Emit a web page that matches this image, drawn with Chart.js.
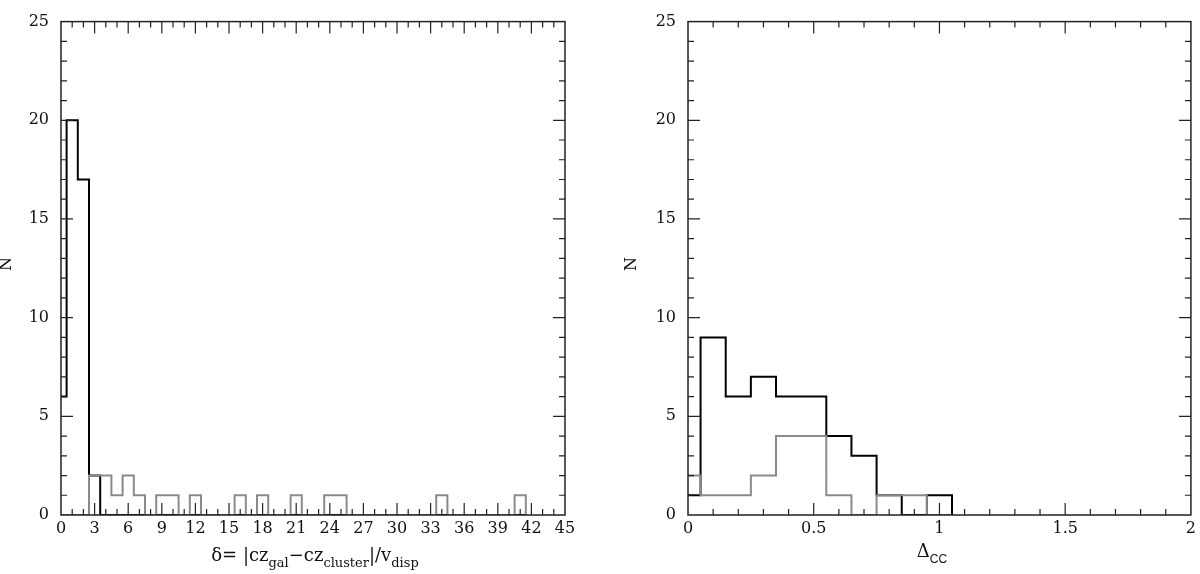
<!DOCTYPE html>
<html>
<head>
<meta charset="utf-8">
<script src="https://cdn.jsdelivr.net/npm/chart.js@4"></script>
<style>
  body { margin: 0; background: #fff; }
  #wrap { position: relative; width: 1200px; height: 574px; }
  canvas { position: absolute; top: 0; }
</style>
</head>
<body>
<div id="wrap">
  <canvas id="leftChart" width="600" height="574" style="left:0"></canvas>
  <canvas id="rightChart" width="600" height="574" style="left:600px"></canvas>
</div>
<script>
// left panel: bins of width 1 centred on integers
const leftBins = [0,1,2,3,4,5,6,7,8,9,10,11,12,13,14,15,16,17,18,19,20,
                  21,22,23,24,25,26,27,28,29,30,31,32,33,34,35,36,37,38,39,40,41];
const leftBlack = [6,20,17,2,0,0,0,0,0,0,0,0,0,0,0,0,0,0,0,0,0,
                   0,0,0,0,0,0,0,0,0,0,0,0,0,0,0,0,0,0,0,0,0];
const leftGray = [0,0,0,2,2,1,2,1,0,1,1,0,1,0,0,0,1,0,1,0,0,
                  1,0,0,1,1,0,0,0,0,0,0,0,0,1,0,0,0,0,0,0,1];

// right panel: bins of width 0.1
const rightBins = [0,0.1,0.2,0.3,0.4,0.5,0.6,0.7,0.8,0.9,1.0];
const rightBlack = [1,9,6,7,6,6,4,3,1,0,1];
const rightGray = [2,1,1,2,4,4,1,0,1,1,0];

const serif = "'DejaVu Serif', serif";

// turn bin centres + counts into step points (left edges, plus closing edge)
function histPoints(centers, counts, width) {
    let pts = centers.map((c, i) => ({ x: c - width / 2, y: counts[i] }));
    pts.push({ x: centers[centers.length - 1] + width / 2, y: 0 });
    return pts;
}

// frame + inward minor/major ticks on all four sides
const frameTicks = {
    id: 'frameTicks',
    afterDraw(chart, args, opts) {
        const { ctx, chartArea: a, scales } = chart;
        ctx.save();
        ctx.strokeStyle = '#222';
        ctx.lineWidth = 1.5;
        ctx.strokeRect(a.left, a.top, a.right - a.left, a.bottom - a.top);
        ctx.lineWidth = 1.2;
        const drawAxis = (scale, minor, major, horiz) => {
            let n = Math.round((scale.max - scale.min) / minor);
            for (let i = 1; i < n; i++) {
                let v = scale.min + i * minor;
                let isMajor = Math.abs(v / major - Math.round(v / major)) < 1e-6;
                let len = isMajor ? 12 : 6;
                let p = scale.getPixelForValue(v);
                ctx.beginPath();
                if (horiz) {
                    ctx.moveTo(p, a.bottom); ctx.lineTo(p, a.bottom - len);
                    ctx.moveTo(p, a.top); ctx.lineTo(p, a.top + len);
                } else {
                    ctx.moveTo(a.left, p); ctx.lineTo(a.left + len, p);
                    ctx.moveTo(a.right, p); ctx.lineTo(a.right - len, p);
                }
                ctx.stroke();
            }
        };
        drawAxis(scales.x, opts.xMinor, opts.xMajor, true);
        drawAxis(scales.y, 1, 5, false);
        ctx.restore();
    }
};

// axis titles with subscripts
const richTitles = {
    id: 'richTitles',
    afterDraw(chart, args, opts) {
        const ctx = chart.ctx;
        ctx.save();
        ctx.fillStyle = '#111';
        ctx.textBaseline = 'alphabetic';
        const parts = opts.xParts;
        let widths = parts.map(p => { ctx.font = p.font; return ctx.measureText(p.text).width; });
        let total = widths.reduce((s, w) => s + w, 0);
        let x = opts.xCenter - total / 2;
        parts.forEach((p, i) => {
            ctx.font = p.font;
            ctx.fillText(p.text, x, opts.xBase + (p.sub ? 6 : 0));
            x += widths[i];
        });
        ctx.font = '16px ' + serif;
        ctx.translate(opts.yX, opts.yY);
        ctx.rotate(-Math.PI / 2);
        ctx.textAlign = 'center';
        ctx.textBaseline = 'middle';
        ctx.fillText('N', 0, 0);
        ctx.restore();
    }
};

function makeChart(id, bins, black, gray, width, xcfg, yWidth, padRight, titles) {
    return new Chart(document.getElementById(id), {
        type: 'line',
        data: {
            datasets: [
                { data: histPoints(bins, gray, width), borderColor: '#8a8a8a', borderWidth: 2,
                  stepped: true, pointRadius: 0, fill: false },
                { data: histPoints(bins, black, width), borderColor: '#000', borderWidth: 2,
                  stepped: true, pointRadius: 0, fill: false }
            ]
        },
        options: {
            responsive: false,
            animation: false,
            layout: { padding: { top: 7, right: padRight, left: 0, bottom: 0 } },
            plugins: {
                legend: { display: false },
                tooltip: { enabled: false },
                frameTicks: { xMinor: xcfg.minor, xMajor: xcfg.step },
                richTitles: titles
            },
            scales: {
                x: {
                    type: 'linear', min: 0, max: xcfg.max,
                    grid: { display: false, drawTicks: false },
                    border: { display: false },
                    ticks: { stepSize: xcfg.step, padding: 4, color: '#111', maxRotation: 0,
                             autoSkip: false, font: { family: serif, size: 16 },
                             callback: v => String(Number(v)) },
                    afterFit: s => { s.height = 59; }
                },
                y: {
                    min: 0, max: 25,
                    grid: { display: false, drawTicks: false },
                    border: { display: false },
                    ticks: { stepSize: 5, padding: 12, color: '#111',
                             font: { family: serif, size: 16 } },
                    afterFit: s => { s.width = yWidth; }
                }
            }
        },
        plugins: [frameTicks, richTitles]
    });
}

const main = '18px ' + serif, sub = '13px ' + serif;

makeChart('leftChart', leftBins, leftBlack, leftGray, 1,
    { max: 45, step: 3, minor: 1 }, 61, 35,
    { xCenter: 315, xBase: 561, yX: 7, yY: 264,
      xParts: [
        { text: '\u03b4= |cz', font: main }, { text: 'gal', font: sub, sub: true },
        { text: '\u2212cz', font: main }, { text: 'cluster', font: sub, sub: true },
        { text: '|/v', font: main }, { text: 'disp', font: sub, sub: true }
      ] });

makeChart('rightChart', rightBins, rightBlack, rightGray, 0.1,
    { max: 2, step: 0.5, minor: 0.1 }, 88, 5,
    { xCenter: 332, xBase: 557, yX: 32, yY: 264,
      xParts: [
        { text: '\u0394', font: main },
        { text: 'CC', font: "12px 'Liberation Sans', sans-serif", sub: true }
      ] });
</script>
</body>
</html>
